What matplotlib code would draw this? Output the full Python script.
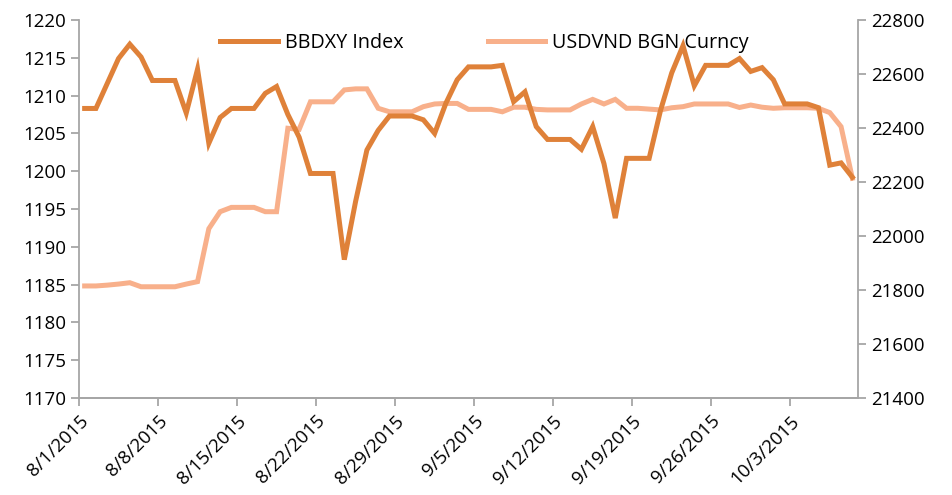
import numpy as np
import pandas as pd
import matplotlib
matplotlib.use("Agg")
import matplotlib.pyplot as plt
import matplotlib.dates as mdates

# daily values, 8/1/2015 - 10/8/2015 (weekends carry Friday's value)
dates = pd.date_range("2015-08-01", "2015-10-08", freq="D")

bbdxy = [1208.3, 1208.3, 1211.6, 1214.9, 1216.8, 1215.1, 1212.0, 1212.0, 1212.0, 1207.7,
         1213.5, 1203.7, 1207.1, 1208.3, 1208.3, 1208.3, 1210.3, 1211.2, 1207.5, 1204.5,
         1199.7, 1199.7, 1199.7, 1188.3, 1196.0, 1202.8, 1205.4, 1207.3, 1207.3, 1207.3,
         1206.8, 1205.0, 1209.0, 1212.1, 1213.8, 1213.8, 1213.8, 1214.0, 1209.2, 1210.5,
         1205.9, 1204.2, 1204.2, 1204.2, 1202.9, 1205.9, 1201.0, 1193.8, 1201.7, 1201.7,
         1201.7, 1208.0, 1213.0, 1216.6, 1211.3, 1214.0, 1214.0, 1214.0, 1214.9, 1213.2,
         1213.7, 1212.1, 1208.9, 1208.9, 1208.9, 1208.4, 1200.8, 1201.1, 1199.2]

usdvnd = [21815, 21815, 21818, 21822, 21827, 21812, 21812, 21812, 21812, 21822,
          21831, 22027, 22090, 22106, 22106, 22106, 22090, 22090, 22399, 22395,
          22497, 22497, 22497, 22541, 22545, 22545, 22473, 22460, 22460, 22460,
          22479, 22489, 22491, 22491, 22469, 22469, 22469, 22460, 22477, 22477,
          22469, 22467, 22467, 22467, 22489, 22506, 22489, 22506, 22473, 22473,
          22470, 22467, 22475, 22479, 22489, 22489, 22489, 22489, 22476, 22485,
          22477, 22473, 22475, 22475, 22475, 22473, 22457, 22405, 22214]

labels = ["BBDXY Index", "USDVND BGN Curncy"]
colors = ["#DF8139", "#F8B08B"]

plt.rcParams["font.family"] = ["Open Sans", "DejaVu Sans"]
fs = 13.5
grey = "#A6A6A6"

fig = plt.figure(figsize=(9.52, 4.95), dpi=100)
ax = fig.add_axes([79 / 952, 1 - 398 / 495, (858 - 79) / 952, (398 - 20) / 495])
ax2 = ax.twinx()

# points sit in the middle of each day, ticks at day boundaries
xpos = dates + pd.Timedelta(hours=12)
l1, = ax.plot(xpos, bbdxy, color=colors[0], lw=3.6, solid_joinstyle="miter", zorder=3)
l2, = ax2.plot(xpos, usdvnd, color=colors[1], lw=3.6, solid_joinstyle="miter", zorder=2)
ax.set_zorder(ax2.get_zorder() + 1)
ax.patch.set_visible(False)

ax.set_xlim(dates[0], dates[-1] + pd.Timedelta(days=1))
ax.set_ylim(1170, 1220)
ax.set_yticks(np.arange(1170, 1221, 5))
ax2.set_ylim(21400, 22800)
ax2.set_yticks(np.arange(21400, 22801, 200))

ax.set_xticks(pd.date_range("2015-08-01", "2015-10-03", freq="7D"))
ax.xaxis.set_major_formatter(mdates.DateFormatter("%-m/%-d/%Y"))
for t in ax.get_xticklabels():
    t.set_rotation(45)
    t.set_ha("right")
    t.set_rotation_mode("anchor")

for a in (ax, ax2):
    for s in a.spines.values():
        s.set_color(grey)
        s.set_linewidth(1.3)
    a.spines["top"].set_visible(False)
    a.tick_params(colors=grey, labelcolor="black", labelsize=fs, width=1.3, length=6)
ax2.spines["left"].set_visible(False)
ax.spines["right"].set_visible(False)
ax.tick_params(axis="x", pad=4)

fig.legend([l1, l2], labels, loc="center", bbox_to_anchor=(0.509, 0.913),
           ncol=2, frameon=False, fontsize=14.2, handlelength=2.9, columnspacing=4.3,
           handletextpad=0.35)

fig.savefig("out.png", dpi=100)
